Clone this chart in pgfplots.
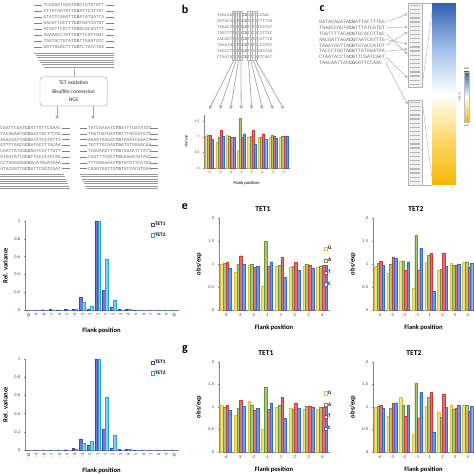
\documentclass[border=0pt]{standalone}
\usepackage{fontspec}
\setmainfont{Carlito}
\newfontfamily\seqfont{Liberation Mono}
\usepackage{pgfplots}
\pgfplotsset{compat=1.18}
\usetikzlibrary{arrows.meta}

\definecolor{cG}{RGB}{242,226,125}
\definecolor{cGd}{RGB}{215,190,70}
\definecolor{cA}{RGB}{168,200,118}
\definecolor{cAd}{RGB}{110,150,60}
\definecolor{cT}{RGB}{232,108,108}
\definecolor{cTd}{RGB}{200,60,60}
\definecolor{cC}{RGB}{110,152,228}
\definecolor{cCd}{RGB}{60,105,200}
\definecolor{cTa}{RGB}{125,118,210}
\definecolor{cTad}{RGB}{75,65,150}
\definecolor{cTb}{RGB}{125,212,240}
\definecolor{cTbd}{RGB}{40,160,210}
\definecolor{axgray}{RGB}{134,134,134}
\definecolor{hblue}{RGB}{55,100,180}
\definecolor{hyel}{RGB}{246,182,5}

\pgfplotsset{
  excel/.style={
    scale only axis, axis lines*=left,
    axis line style={axgray, line width=0.4pt},
    tick align=outside, major tick length=1.5pt,
    tick style={axgray, line width=0.4pt},
    /pgf/number format/assume math mode=true,
    tick label style={font=\fontsize{4.4}{5}\selectfont, text=black!80},
    label style={font=\bfseries\fontsize{6.6}{7}\selectfont},
    ymin=0, clip=false,
    every axis plot/.append style={line width=0.3pt},
    legend style={draw=none, fill=none, font=\bfseries\fontsize{5.2}{5.2}\selectfont,
      inner sep=0pt, legend cell align=left, nodes={inner sep=0.8pt}},
  },
  obs/.style={excel, ybar=0pt, bar width=0.2, ymax=2, ytick={0,0.5,1,1.5,2},
    xmin=-0.5, xmax=7.5, xtick={-0.5,0.5,...,7.5}, xticklabels={},
    extra x ticks={0,...,7}, extra x tick labels={-4,-3,-2,-1,1,2,3,4},
    extra x tick style={major tick length=0pt},
    xlabel={Flank position}, ylabel={obs/exp},
    legend style={row sep=5.3pt},
  },
  rel/.style={excel, ybar=0.5pt, bar width=0.34, ymax=1, ytick={0,0.2,0.4,0.6,0.8,1},
    xmin=-0.5, xmax=19.5, xtick={-0.5,0.5,...,19.5}, xticklabels={},
    extra x ticks={0,...,19},
    extra x tick labels={-10,-9,-8,-7,-6,-5,-4,-3,-2,-1,1,2,3,4,5,6,7,8,9,10},
    extra x tick style={major tick length=0pt, tick label style={rotate=90, anchor=east}},
    xlabel={Flank position}, ylabel={Rel. variance},
    legend style={row sep=4.0pt, at={(0.82,0.995)}, anchor=north west},
  },
  legsq/.style={legend image code/.code={\draw[draw=#1,fill=white,line width=0.5pt] (0pt,-1.6pt) rectangle (3.2pt,1.6pt);}},
  sG/.style={fill=cG, draw=cGd, legsq=cGd},
  sA/.style={fill=cA, draw=cAd, legsq=cAd},
  sT/.style={fill=cT, draw=cTd, legsq=cTd},
  sC/.style={fill=cC, draw=cCd, legsq=cCd},
  s1/.style={fill=cTa, draw=cTad, legsq=cTad},
  s2/.style={fill=cTb, draw=cTbd, legsq=cTbd},
}

\begin{document}
\begin{tikzpicture}[x=1bp,y=1bp]
\useasboundingbox (0,0) rectangle (474,474);
\clip (0,0) rectangle (474,474);

% ================= panel a =================
\begin{scope}[every node/.style={font=\seqfont\fontsize{4.6}{5}\selectfont, text=black!55, inner sep=0pt}]
\foreach \a/\b/\c [count=\i from 0] in {TCAGGGTAAAT/CG/CTATGTGTT, ATTATAATGTT/CG/ATTCGTTGT,
  GTATTCAGGTT/CG/ATATGATTA, AACGTTACTTT/CG/TAATCATGT, ATGATTCGTTT/CG/GCGCGGTTT,
  AGAAACCTGTT/CG/TTCGTTGGT, TAGTACTGTAT/CG/TTAAGTCCC, GGTTGGACTTT/CG/TCTACCTAA}{
  \node at (74, 469-6*\i) {\a\textbf{\b}\c};
  \draw[gray, line width=0.4pt] (34, 469-6*\i) -- (42, 469-6*\i);
  \draw[gray, line width=0.4pt] (106, 469-6*\i) -- (114, 469-6*\i);
}
\foreach \a/\b/\c [count=\i from 0] in {CGATTCGAT/CG/ATTGTTCGAAC, TACAGAATG/CG/AATTACTTTGG,
  AAACGATTG/CG/ATATCATGTTT, GTTTTAGCG/CG/ATACCTTACAA, CGATTATGG/CG/AATCATTTGTT,
  ATGGTATCG/CG/TTACCATGTAA, CCTGGGAGG/CG/ACATGGATAAA, ATACGGTTG/CG/ATTCGATCAAT}{
  \node[anchor=east] at (61, 346-5.8*\i) {\a\textbf{\b}\c};
  \draw[gray, line width=0.4pt] (62, 346-5.8*\i) -- (70, 346-5.8*\i);
}
\foreach \a/\b/\c [count=\i from 0] in {TATCGAAATC/TG/ATTTGATATGT, TGGTGGTGAT/TG/TTTACGATGTT,
  AAAATAAGGC/TG/TAAATCGAATT, TGTTTGCAAG/TG/ATGTGGAACAA, TAGGAAGTTT/TG/TGGAATTTATT,
  CGGTTTCGAT/TG/GAAGATATAAT, TTTGGGAAAT/TG/TGTGTTCATGG, CGGGTGGTTG/TG/TGTTACGTGAA}{
  \node[anchor=west] at (88, 346-5.8*\i) {\a\textbf{\b}\c};
  \draw[gray, line width=0.4pt] (80, 346-5.8*\i) -- (87, 346-5.8*\i);
  \draw[gray, line width=0.4pt] (150, 346-5.8*\i) -- (158, 346-5.8*\i);
}
\end{scope}
\foreach \j in {0,...,6}{
  \draw[gray!80, line width=0.5pt] (34+1.6*\j, 421-2.3*\j) -- (114, 421-2.3*\j);
  \draw[gray!80, line width=0.5pt] (0, 300-2.4*\j) -- (64+1.0*\j, 300-2.4*\j);
  \draw[gray!80, line width=0.5pt] (80+1.0*\j, 300-2.4*\j) -- (158, 300-2.4*\j);
}
\draw[gray!70, line width=0.5pt] (74,405) -- (74,397);
\draw[gray!70, line width=0.5pt, rounded corners=3pt] (40,397) rectangle (107,368);
\node[align=center, font=\fontsize{5.4}{8.6}\selectfont, text=black!85] at (73.5,382.5)
  {TET oxidation\\Bisulfite conversion\\NGS};
\draw[-{Triangle[width=3.4pt,length=3pt]}, gray!70, line width=0.9pt] (57,368) -- (57,355);
\draw[-{Triangle[width=3.4pt,length=3pt]}, gray!70, line width=0.9pt] (93,368) -- (93,355);

% ================= panel b =================
\node[font=\bfseries\fontsize{12}{12}\selectfont] at (185,465) {b};
\begin{scope}[every node/.style={font=\seqfont\fontsize{4.2}{5}\selectfont, text=black!55, inner sep=0pt, anchor=west}]
\foreach \a/\b/\c [count=\i from 0] in {TAACAATTAC/CG/GGTTCCAAC, GATACAGATA/CG/ATTACTTTGG,
  TGAACCAGTA/CG/TTTATCATGT, TGGTTTTACA/CG/TGCACCTTAC, AACGATTAGA/CG/TAATCATTTG,
  TAAATGGTTA/CG/TGTACCATGT, TACCCTGGTA/CG/TTATGGATAA, CTAATACCTA/CG/TTCGATCAAT}{
  \node at (217, 459-6*\i) {\a\textbf{\b}\c};
}
\end{scope}
\foreach \k/\cx/\tx in {0/233.4/209.3, 1/235.9/219.9, 2/238.4/230.6, 3/240.9/241.2,
  4/248.5/251.8, 5/251.0/262.4, 6/253.5/273.1, 7/256.1/283.7}{
  \draw[gray!60, line width=0.3pt] (\cx-1.26, 463) rectangle (\cx+1.26, 414);
  \draw[-{Triangle[width=3.6pt,length=3.2pt]}, gray!65, line width=0.8pt] (\cx, 413) -- (\tx, 365);
}
\begin{axis}[excel, at={(204bp,306bp)}, anchor=south west, width=85bp, height=53bp,
  ybar=0pt, bar width=0.2, ymax=1.7, ytick={0,0.5,1,1.5},
  xmin=-0.5, xmax=7.5, xtick={-0.5,0.5,...,7.5}, xticklabels={},
  extra x ticks={0,...,7}, extra x tick labels={-4,-3,-2,-1,1,2,3,4},
  extra x tick style={major tick length=0pt},
  tick label style={font=\fontsize{3.6}{4}\selectfont},
  label style={font=\fontsize{4.6}{5}\selectfont},
  ylabel style={font=\fontsize{3.8}{4}\selectfont},
  xlabel={Flank position}, ylabel={obs/exp}, major tick length=1pt]
\addplot[sG] coordinates {(0,1.02) (1,0.82) (2,1.05) (3,0.58) (4,1.00) (5,0.98) (6,0.98) (7,0.98)};
\addplot[sA] coordinates {(0,1.04) (1,1.00) (2,1.03) (3,1.60) (4,1.03) (5,1.00) (6,1.05) (7,1.03)};
\addplot[sT] coordinates {(0,1.04) (1,1.20) (2,0.98) (3,1.00) (4,1.20) (5,1.10) (6,1.03) (7,1.03)};
\addplot[sC] coordinates {(0,0.93) (1,1.03) (2,1.00) (3,1.10) (4,0.75) (5,0.92) (6,0.97) (7,1.03)};
\end{axis}

% ================= panel c =================
\node[font=\bfseries\fontsize{12}{12}\selectfont] at (322,465) {c};
\begin{scope}[every node/.style={font=\seqfont\fontsize{5}{5}\selectfont, text=black!55, inner sep=0pt, anchor=west}]
\foreach \a/\b/\c/\t [count=\i from 0] in {GATACAGATA/CG/ATTACTTTGG/460, TGAACCAGTA/CG/TTTATCATGT/447,
  TGGTTTTACA/CG/TGCACCTTAC/420, AACGATTAGA/CG/TAATCATTTG/430, TAAATGGTTA/CG/TGTACCATGT/442,
  TACCCTGGTA/CG/TTATGGATAA/425, CTAATACCTA/CG/TTCGATCAAT/396, TAACAATTAC/CG/GGTTCCAAC/370}{
  \node at (319, 452-5.85*\i) {\a\textbf{\b}\c};
  \draw[-{Triangle[width=2.6pt,length=2.4pt]}, gray!65, line width=0.5pt] (386, 452-5.85*\i) -- (407.5, \t);
}
\end{scope}
\draw[gray!60, fill=gray!10, line width=0.4pt] (408,471) rectangle (422,387);
\draw[gray!60, fill=gray!10, line width=0.4pt] (408,374) rectangle (422,289);
\foreach \r in {0,...,19}{
  \draw[gray!55, line width=1.3pt] (409.6, 468.5-4.15*\r) -- (420.4, 468.5-4.15*\r);
  \draw[gray!55, line width=1.3pt] (409.6, 371.5-4.15*\r) -- (420.4, 371.5-4.15*\r);
}
\draw[gray!60, line width=0.4pt] (422,471) -- (432,471);
\draw[gray!60, line width=0.4pt] (422,387) -- (432,462);
\draw[gray!60, line width=0.4pt] (422,374) -- (432,296);
\draw[gray!60, line width=0.4pt] (422,289) -- (432,289);
\begin{axis}[hide axis, scale only axis, at={(432bp,289bp)}, anchor=south west,
  width=23bp, height=182bp, xmin=0, xmax=1, ymin=0, ymax=1, view={0}{90}, clip=false,
  colormap={heat}{rgb255=(246,182,5) rgb255=(252,216,105) rgb255=(255,255,255) rgb255=(160,190,232) rgb255=(50,95,178)}]
\addplot3[surf, shader=interp, mesh/cols=2, point meta=y] coordinates {
  (0,0,0) (1,0,0) (0,0.25,0) (1,0.25,0) (0,0.5,0) (1,0.5,0) (0,0.75,0) (1,0.75,0) (0,1,0) (1,1,0)};
\end{axis}
\shade[top color=hblue, bottom color=hyel, middle color=white] (464,402) rectangle (469,352);
\draw[gray!50, line width=0.2pt] (464,402) rectangle (469,352);
\node[font=\fontsize{3}{3}\selectfont, text=black!70] at (466.5,405) {high};
\node[font=\fontsize{3}{3}\selectfont, text=black!70] at (466.5,349) {low};
\node[font=\fontsize{3}{3}\selectfont, text=black!70, rotate=90] at (459.5,377) {activity};

% ================= panel d =================
\begin{axis}[rel, at={(25bp,164bp)}, anchor=south west, width=153bp, height=89bp]
\addplot[s1] coordinates {(0,0) (1,0) (2,0.003) (3,0.005) (4,0.003) (5,0.005) (6,0.01) (7,0.14) (8,0.01) (9,1.0)
  (10,0.22) (11,0.03) (12,0.005) (13,0.01) (14,0.002) (15,0) (16,0) (17,0) (18,0) (19,0)};
\addlegendentry{TET1}
\addplot[s2] coordinates {(0,0) (1,0) (2,0) (3,0) (4,0) (5,0.003) (6,0.005) (7,0.09) (8,0.04) (9,1.0)
  (10,0.57) (11,0.11) (12,0.003) (13,0.005) (14,0) (15,0) (16,0) (17,0) (18,0) (19,0)};
\addlegendentry{TET2}
\end{axis}

% ================= panel f =================
\begin{axis}[rel, at={(25bp,24bp)}, anchor=south west, width=153bp, height=91bp]
\addplot[s1] coordinates {(0,0) (1,0) (2,0) (3,0) (4,0) (5,0.003) (6,0.015) (7,0.12) (8,0.05) (9,1.0)
  (10,0.23) (11,0.025) (12,0.005) (13,0.01) (14,0.002) (15,0) (16,0) (17,0) (18,0) (19,0)};
\addlegendentry{TET1}
\addplot[s2] coordinates {(0,0) (1,0) (2,0) (3,0) (4,0) (5,0) (6,0.005) (7,0.07) (8,0.10) (9,1.0)
  (10,0.58) (11,0.165) (12,0.003) (13,0.008) (14,0) (15,0) (16,0) (17,0) (18,0) (19,0)};
\addlegendentry{TET2}
\end{axis}

% ================= panel e =================
\node[font=\bfseries\fontsize{12}{12}\selectfont] at (185,267) {e};
\node[font=\bfseries\fontsize{7.6}{8}\selectfont] at (263,265) {TET1};
\node[font=\bfseries\fontsize{7.6}{8}\selectfont] at (416,265) {TET2};
\begin{axis}[obs, at={(219bp,164bp)}, anchor=south west, width=110bp, height=92bp,
  legend style={at={(0.95,0.70)}, anchor=north west}]
\addplot[sG] coordinates {(0,1.00) (1,0.82) (2,0.97) (3,0.52) (4,0.95) (5,0.93) (6,0.95) (7,0.93)};
\addlegendentry{G}
\addplot[sA] coordinates {(0,1.02) (1,1.00) (2,1.00) (3,1.50) (4,0.97) (5,0.95) (6,0.99) (7,0.96)};
\addlegendentry{A}
\addplot[sT] coordinates {(0,1.03) (1,1.18) (2,0.93) (3,0.96) (4,1.15) (5,1.03) (6,0.97) (7,0.97)};
\addlegendentry{T}
\addplot[sC] coordinates {(0,0.92) (1,1.00) (2,0.95) (3,1.05) (4,0.72) (5,0.87) (6,0.92) (7,0.97)};
\addlegendentry{C}
\end{axis}
\begin{axis}[obs, at={(373bp,164bp)}, anchor=south west, width=101bp, height=92bp]
\addplot[sG] coordinates {(0,0.95) (1,0.80) (2,1.07) (3,0.47) (4,1.03) (5,0.87) (6,1.01) (7,1.03)};
\addplot[sA] coordinates {(0,1.02) (1,1.00) (2,1.07) (3,1.63) (4,1.20) (5,0.88) (6,0.97) (7,1.05)};
\addplot[sT] coordinates {(0,1.06) (1,1.14) (2,0.86) (3,0.87) (4,1.23) (5,1.24) (6,0.98) (7,0.93)};
\addplot[sC] coordinates {(0,0.97) (1,1.12) (2,1.05) (3,1.35) (4,0.41) (5,0.95) (6,1.00) (7,1.02)};
\end{axis}

% ================= panel g =================
\node[font=\bfseries\fontsize{12}{12}\selectfont] at (185,124) {g};
\node[font=\bfseries\fontsize{7.6}{8}\selectfont] at (266,121) {TET1};
\node[font=\bfseries\fontsize{7.6}{8}\selectfont] at (414,121) {TET2};
\begin{axis}[obs, at={(219bp,22bp)}, anchor=south west, width=110bp, height=90bp,
  legend style={at={(0.95,0.69)}, anchor=north west}]
\addplot[sG] coordinates {(0,1.05) (1,0.82) (2,1.13) (3,0.51) (4,1.00) (5,0.98) (6,0.95) (7,0.95)};
\addlegendentry{G}
\addplot[sA] coordinates {(0,1.00) (1,0.98) (2,1.04) (3,1.44) (4,1.03) (5,0.95) (6,1.02) (7,1.00)};
\addlegendentry{A}
\addplot[sT] coordinates {(0,1.03) (1,1.15) (2,0.93) (3,0.95) (4,1.21) (5,1.09) (6,1.02) (7,1.00)};
\addlegendentry{T}
\addplot[sC] coordinates {(0,0.92) (1,1.02) (2,0.97) (3,1.08) (4,0.76) (5,0.97) (6,1.00) (7,1.00)};
\addlegendentry{C}
\end{axis}
\begin{axis}[obs, at={(373bp,22bp)}, anchor=south west, width=101bp, height=90bp]
\addplot[sG] coordinates {(0,1.00) (1,0.80) (2,1.22) (3,0.39) (4,1.02) (5,0.88) (6,1.05) (7,1.04)};
\addplot[sA] coordinates {(0,1.01) (1,0.98) (2,1.04) (3,1.52) (4,1.22) (5,0.78) (6,0.96) (7,1.04)};
\addplot[sT] coordinates {(0,1.03) (1,1.09) (2,0.80) (3,0.75) (4,1.33) (5,1.28) (6,0.97) (7,0.90)};
\addplot[sC] coordinates {(0,0.98) (1,1.09) (2,1.03) (3,1.32) (4,0.43) (5,0.99) (6,1.04) (7,1.02)};
\end{axis}
\end{tikzpicture}
\end{document}
